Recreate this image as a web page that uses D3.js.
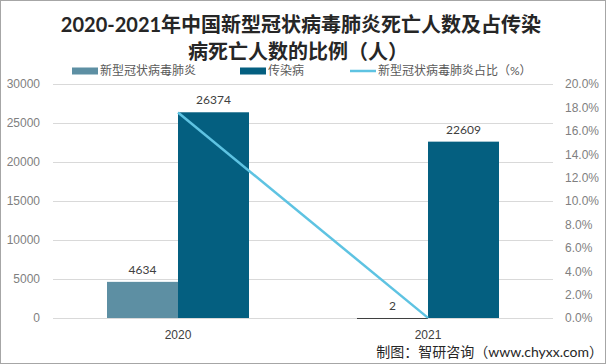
<!DOCTYPE html>
<html>
<head>
<meta charset="utf-8">
<script src="https://cdn.jsdelivr.net/npm/d3@7"></script>
<style>
  html, body { margin: 0; padding: 0; background: #fff; }
  svg { display: block; font-family: Lato, "Noto Sans CJK SC", sans-serif; }
</style>
</head>
<body>
<svg id="chart" width="606" height="364"></svg>
<script>
// Data
const years = ['2020', '2021'];
const covidDeaths = [4634, 2];
const infectiousDeaths = [26374, 22609];
const covidSharePct = [17.57, 0.01];
const leftTicks = [0, 5000, 10000, 15000, 20000, 25000, 30000];
const rightTicks = [0, 2, 4, 6, 8, 10, 12, 14, 16, 18, 20];
const seriesNames = ['新型冠状病毒肺炎', '传染病', '新型冠状病毒肺炎占比（%）'];

const W = 606, H = 364;
const PLOT = { left: 53, right: 553, top: 84, bottom: 318 };

const COLORS = {
  covid: '#5d8fa3',
  infectious: '#045f80',
  share: '#5ec3e2',
  grid: '#d9d9d9',
  tick: '#7f7f7f',
  label: '#404040',
};

const svg = d3.select('#chart');

// frame around the picture
svg.append('rect')
  .attr('x', 0.5).attr('y', 0.5).attr('width', W - 1).attr('height', H - 1)
  .attr('fill', '#fff').attr('stroke', '#a6a6a6');

// scales
const x = d3.scaleBand().domain(years)
  .range([PLOT.left, PLOT.right]).paddingInner(0.432).paddingOuter(0.216);
const xSub = d3.scaleBand().domain(['covid', 'infectious'])
  .range([0, x.bandwidth()]);
const yLeft = d3.scaleLinear().domain([0, 30000]).range([PLOT.bottom, PLOT.top]);
const yRight = d3.scaleLinear().domain([0, 20]).range([PLOT.bottom, PLOT.top]);

// gridlines
svg.append('g').selectAll('line').data(leftTicks).join('line')
  .attr('x1', PLOT.left).attr('x2', PLOT.right)
  .attr('y1', (d) => yLeft(d) + 0.5).attr('y2', (d) => yLeft(d) + 0.5)
  .attr('stroke', COLORS.grid).attr('stroke-width', 1);

// left axis labels
const leftAxis = svg.append('g')
  .attr('transform', `translate(${PLOT.left - 13},0)`)
  .call(d3.axisLeft(yLeft).tickValues(leftTicks).tickSize(0).tickPadding(0).tickFormat(d3.format('d')));
leftAxis.select('.domain').remove();
leftAxis.selectAll('text').attr('fill', COLORS.tick).attr('font-size', '12px');

// right axis labels
const rightAxis = svg.append('g')
  .attr('transform', `translate(${PLOT.right + 12},0)`)
  .call(d3.axisRight(yRight).tickValues(rightTicks).tickSize(0).tickPadding(0).tickFormat((d) => d.toFixed(1) + '%'));
rightAxis.select('.domain').remove();
rightAxis.selectAll('text').attr('fill', COLORS.tick).attr('font-size', '12px');

// x axis labels
const xAxis = svg.append('g')
  .attr('transform', `translate(0,${PLOT.bottom + 10})`)
  .call(d3.axisBottom(x).tickSize(0).tickPadding(0));
xAxis.select('.domain').remove();
xAxis.selectAll('text').attr('fill', COLORS.label).attr('font-size', '12px').attr('dy', '0.9em');

// bars
const barRows = years.map((yr, i) => [
  { key: 'covid', year: yr, value: covidDeaths[i] },
  { key: 'infectious', year: yr, value: infectiousDeaths[i] },
]).flat();

const bars = svg.append('g');
bars.selectAll('rect').data(barRows).join('rect')
  .attr('x', (d) => x(d.year) + xSub(d.key))
  .attr('y', (d) => yLeft(d.value))
  .attr('width', xSub.bandwidth())
  .attr('height', (d) => PLOT.bottom - yLeft(d.value))
  .attr('fill', (d) => COLORS[d.key]);

// the tiny 2021 bar shows as a dark hairline on the base
bars.selectAll('line.tiny').data(barRows.filter((d) => PLOT.bottom - yLeft(d.value) < 1)).join('line')
  .attr('class', 'tiny')
  .attr('x1', (d) => x(d.year) + xSub(d.key))
  .attr('x2', (d) => x(d.year) + xSub(d.key) + xSub.bandwidth())
  .attr('y1', PLOT.bottom + 0.5).attr('y2', PLOT.bottom + 0.5)
  .attr('stroke', '#404040').attr('stroke-width', 1);

// bar value labels
svg.append('g').selectAll('text').data(barRows).join('text')
  .attr('x', (d) => x(d.year) + xSub(d.key) + xSub.bandwidth() / 2)
  .attr('y', (d) => yLeft(d.value) - 8)
  .attr('text-anchor', 'middle')
  .attr('fill', COLORS.label).attr('font-size', '12px')
  .text((d) => d.value);

// share line
const line = d3.line()
  .x((d, i) => x(years[i]) + x.bandwidth() / 2)
  .y((d) => yRight(d));
svg.append('path')
  .datum(covidSharePct)
  .attr('d', line)
  .attr('fill', 'none')
  .attr('stroke', COLORS.share).attr('stroke-width', 2.5);

// title
const title = svg.append('text')
  .attr('text-anchor', 'middle')
  .attr('font-size', '20px').attr('font-weight', '700').attr('fill', '#262626');
title.append('tspan').attr('x', 301).attr('y', 32).text('2020-2021年中国新型冠状病毒肺炎死亡人数及占传染');
title.append('tspan').attr('x', 298).attr('y', 59).text('病死亡人数的比例（人）');

// legend
const legendX = [72, 240, 350];
const legend = svg.append('g').attr('transform', 'translate(0,71)');
seriesNames.forEach((name, i) => {
  const g = legend.append('g').attr('transform', `translate(${legendX[i]},0)`);
  if (i < 2) {
    g.append('rect').attr('x', 0).attr('y', -3.5).attr('width', 26).attr('height', 7)
      .attr('fill', i === 0 ? COLORS.covid : COLORS.infectious);
  } else {
    g.append('line').attr('x1', 0).attr('x2', 26).attr('y1', 0).attr('y2', 0)
      .attr('stroke', COLORS.share).attr('stroke-width', 2.5);
  }
  g.append('text').attr('x', 28).attr('y', 0).attr('dy', '0.35em')
    .attr('font-size', '12px').attr('fill', '#595959').text(name);
});

// source note
svg.append('text')
  .attr('x', 603).attr('y', 357)
  .attr('text-anchor', 'end')
  .attr('font-size', '14px').attr('fill', '#262626')
  .text('制图：智研咨询（www.chyxx.com）');
</script>
</body>
</html>
